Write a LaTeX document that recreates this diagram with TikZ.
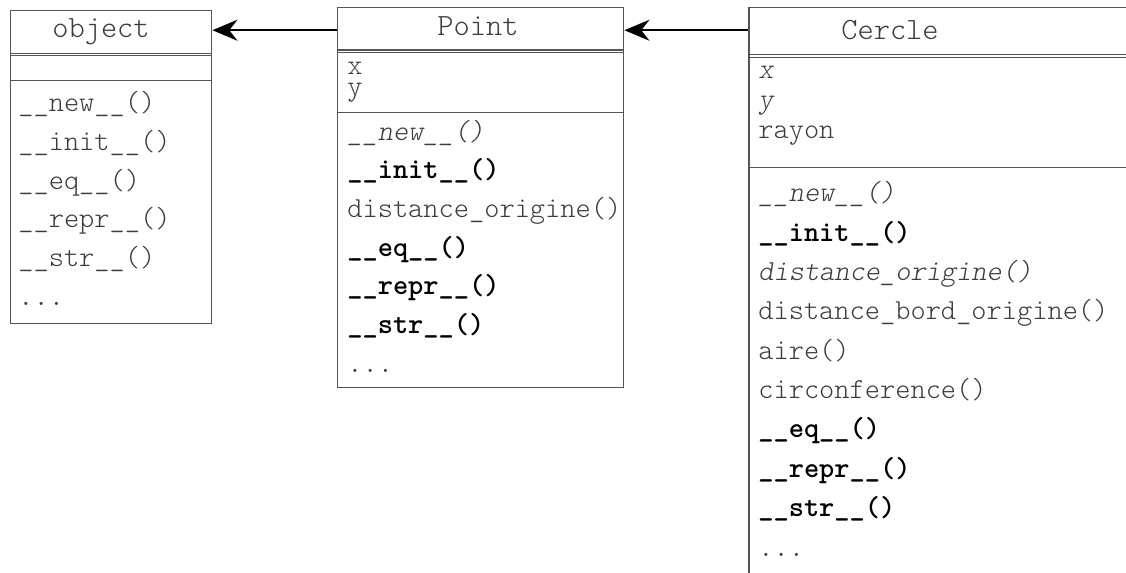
\documentclass[tikz,border=0pt]{standalone}
\usepackage{tikz}
\usetikzlibrary{arrows.meta, positioning}
\definecolor{umlgray}{RGB}{60,60,60}
\definecolor{umlline}{RGB}{85,85,85}
\newcommand{\umlfont}{\ttfamily\fontseries{l}\selectfont}
\newcommand{\bmeth}[1]{\textcolor{black}{\bfseries #1}}
\newcommand{\imeth}[1]{{\slshape #1}}

\begin{document}
\begin{tikzpicture}[
    x=0.02cm, y=-0.02cm,
    classbox/.style={rectangle, draw=umlline, line width=0.85pt, anchor=north west, inner sep=0pt},
    sepline/.style={draw=umlline, line width=0.85pt},
    classname/.style={font=\fontsize{17.6}{20}\umlfont, text=umlgray, anchor=base},
    members/.style={font=\fontsize{16.5}{22}\umlfont, text=umlgray, align=left, anchor=base west, inner sep=0pt},
    inherit/.style={-{Stealth[length=0.5cm, width=0.42cm]}, line width=1.1pt, black}
]
    \clip (0,0) rectangle (1126,572);

    % object
    \node[classbox, minimum width=4.02cm, minimum height=0.9cm] (objtitle) at (10,10) {};
    \node[classbox, minimum width=4.02cm, minimum height=0.5cm] (objattr) at (10,55) {};
    \node[classbox, minimum width=4.02cm, minimum height=4.86cm] (objmeth) at (10,80) {};
    \draw[sepline] ([yshift=0.06cm]objtitle.south west) -- ([yshift=0.06cm]objtitle.south east);
    \node[classname] (objname) at (101,37) {object};
    \node[members] (objlist) at (18,305) {\_\_new\_\_()\\ \_\_init\_\_()\\ \_\_eq\_\_()\\ \_\_repr\_\_()\\ \_\_str\_\_()\\ ...};

    % Point
    \node[classbox, minimum width=5.72cm, minimum height=0.9cm] (pttitle) at (337,7) {};
    \node[classbox, minimum width=5.72cm, minimum height=1.2cm] (ptattr) at (337,52) {};
    \node[classbox, minimum width=5.72cm, minimum height=5.5cm] (ptmeth) at (337,112) {};
    \draw[sepline] ([yshift=0.07cm]pttitle.south west) -- ([yshift=0.07cm]pttitle.south east);
    \node[classname] (ptname) at (478,35) {Point};
    \node[members, font=\fontsize{16.5}{11.5}\umlfont] (ptattrlist) at (347,95) {x\\ y};
    \node[members] (ptlist) at (347,372) {\imeth{\_\_new\_\_()}\\ \bmeth{\_\_init\_\_()}\\ distance\_origine()\\ \bmeth{\_\_eq\_\_()}\\ \bmeth{\_\_repr\_\_()}\\ \bmeth{\_\_str\_\_()}\\ ...};

    % Cercle
    \node[classbox, minimum width=8.4cm, minimum height=1.0cm] (cetitle) at (748,7) {};
    \node[classbox, minimum width=8.4cm, minimum height=2.2cm] (ceattr) at (748,57) {};
    \node[classbox, minimum width=8.4cm, minimum height=8.4cm] (cemeth) at (748,167) {};
    \draw[sepline] ([yshift=0.08cm]cetitle.south west) -- ([yshift=0.08cm]cetitle.south east);
    \node[classname] (cename) at (890,39) {Cercle};
    \node[members, font=\fontsize{16.5}{17}\umlfont] (ceattrlist) at (758,138) {\imeth{x}\\ \imeth{y}\\ rayon};
    \node[members, font=\fontsize{16.5}{22.4}\umlfont] (celist) at (758,556) {\imeth{\_\_new\_\_()}\\ \bmeth{\_\_init\_\_()}\\ \imeth{distance\_origine()}\\ distance\_bord\_origine()\\ aire()\\ circonference()\\ \bmeth{\_\_eq\_\_()}\\ \bmeth{\_\_repr\_\_()}\\ \bmeth{\_\_str\_\_()}\\ ...};

    % Heritage
    \draw[inherit] (pttitle.west) -- (pttitle.west -| objtitle.east);
    \draw[inherit] (cetitle.west |- pttitle) -- (pttitle.east);
\end{tikzpicture}
\end{document}
